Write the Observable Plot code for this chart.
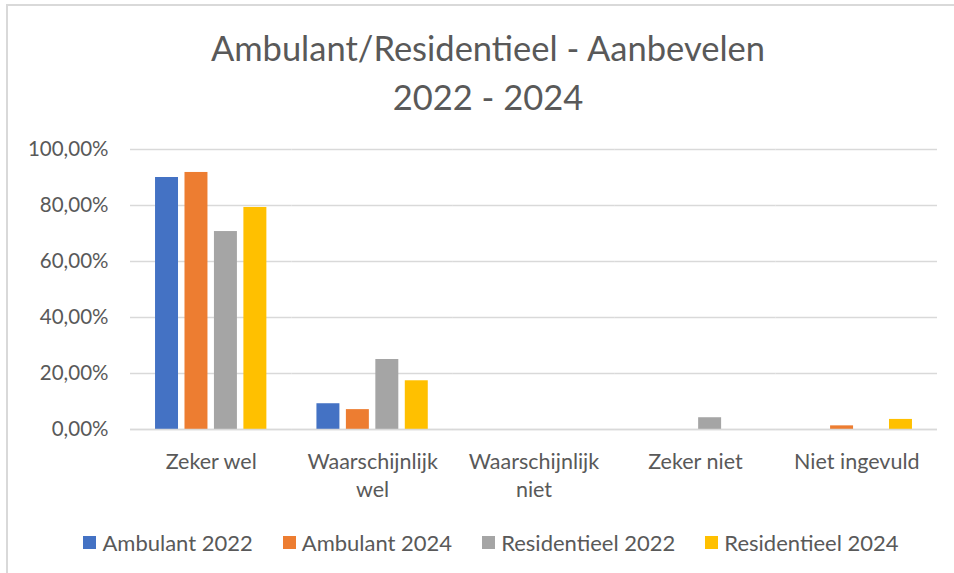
<!DOCTYPE html>
<html>
<head>
<meta charset="utf-8">
<script src="https://cdn.jsdelivr.net/npm/d3@7"></script>
<script src="https://cdn.jsdelivr.net/npm/@observablehq/plot@0.6"></script>
<style>
  html, body { margin: 0; padding: 0; background: #fff; }
  #wrap { position: relative; width: 954px; height: 573px; overflow: hidden; font-family: Lato, "Open Sans", sans-serif; color: #595959; }
  #frame { position: absolute; left: 6px; top: 4px; width: 1000px; height: 1000px; border: 2px solid #d9d9d9; box-sizing: border-box; }
  #title { position: absolute; left: 11px; top: 23px; width: 954px; text-align: center; font-size: 34.5px; line-height: 49px; color: #595959; }
  #chart { position: absolute; left: 0; top: 120px; }
  #legend { position: absolute; left: 14px; top: 529px; width: 954px; display: flex; justify-content: center; gap: 30px; font-size: 22px; }
  #legend .item { display: flex; align-items: center; gap: 6px; }
  #legend .sw { width: 13px; height: 13px; display: inline-block; }
</style>
</head>
<body>
<div id="wrap">
  <div id="frame"></div>
  <div id="title">Ambulant/Residentieel - Aanbevelen<br>2022 - 2024</div>
  <div id="chart"></div>
  <div id="legend"></div>
</div>
<script>
const categories = ["Zeker wel", "Waarschijnlijk wel", "Waarschijnlijk niet", "Zeker niet", "Niet ingevuld"];
const categoryLabels = ["Zeker wel", "Waarschijnlijk\nwel", "Waarschijnlijk\nniet", "Zeker niet", "Niet ingevuld"];
const series = ["Ambulant 2022", "Ambulant 2024", "Residentieel 2022", "Residentieel 2024"];
const colors = ["#4472c4", "#ed7d31", "#a5a5a5", "#ffc000"];
const ambulant2022 = [90.0, 9.2, 0, 0, 0];
const ambulant2024 = [91.8, 7.1, 0, 0, 1.3];
const residentieel2022 = [70.7, 25.0, 0, 4.2, 0];
const residentieel2024 = [79.3, 17.4, 0, 0, 3.6];
const yTicks = [0, 20, 40, 60, 80, 100];

const valuesBySeries = [ambulant2022, ambulant2024, residentieel2022, residentieel2024];
const data = [];
categories.forEach((c, i) => {
  series.forEach((s, j) => {
    data.push({category: c, series: s, value: valuesBySeries[j][i]});
  });
});

const fmt = v => v.toFixed(2).replace(".", ",") + "%";

const plot = Plot.plot({
  width: 954,
  height: 390,
  marginLeft: 130,
  marginRight: 17,
  marginTop: 29,
  marginBottom: 81,
  style: {fontFamily: "Lato, 'Open Sans', sans-serif", fontSize: "20px", color: "#595959", background: "transparent"},
  fx: {domain: categories, padding: 0, round: false, label: null, axis: null},
  x: {domain: series, paddingInner: 0.22, paddingOuter: 0.85, round: false, axis: null},
  y: {domain: [0, 100], ticks: yTicks, label: null},
  color: {domain: series, range: colors},
  marks: [
    Plot.gridY(yTicks, {stroke: "#d9d9d9", strokeOpacity: 1, strokeWidth: 1.3, facetAnchor: null}),
    Plot.axisY(yTicks, {tickSize: 0, tickPadding: 22, tickFormat: fmt, fontSize: 20.5, fill: "#595959"}),
    Plot.axisFx({anchor: "bottom", tickSize: 0, tickPadding: 20, tickFormat: d => categoryLabels[categories.indexOf(d)], fontSize: 21.5, fill: "#595959", lineHeight: 1.3, label: null}),
    Plot.barY(data, {fx: "category", x: "series", y: "value", fill: "series"}),
    Plot.ruleY([0], {stroke: "#d9d9d9", strokeWidth: 1.5, facetAnchor: null})
  ]
});
document.getElementById("chart").appendChild(plot);

const legend = document.getElementById("legend");
series.forEach((s, j) => {
  const it = document.createElement("div");
  it.className = "item";
  it.innerHTML = `<span class="sw" style="background:${colors[j]}"></span><span>${s}</span>`;
  legend.appendChild(it);
});
</script>
</body>
</html>
